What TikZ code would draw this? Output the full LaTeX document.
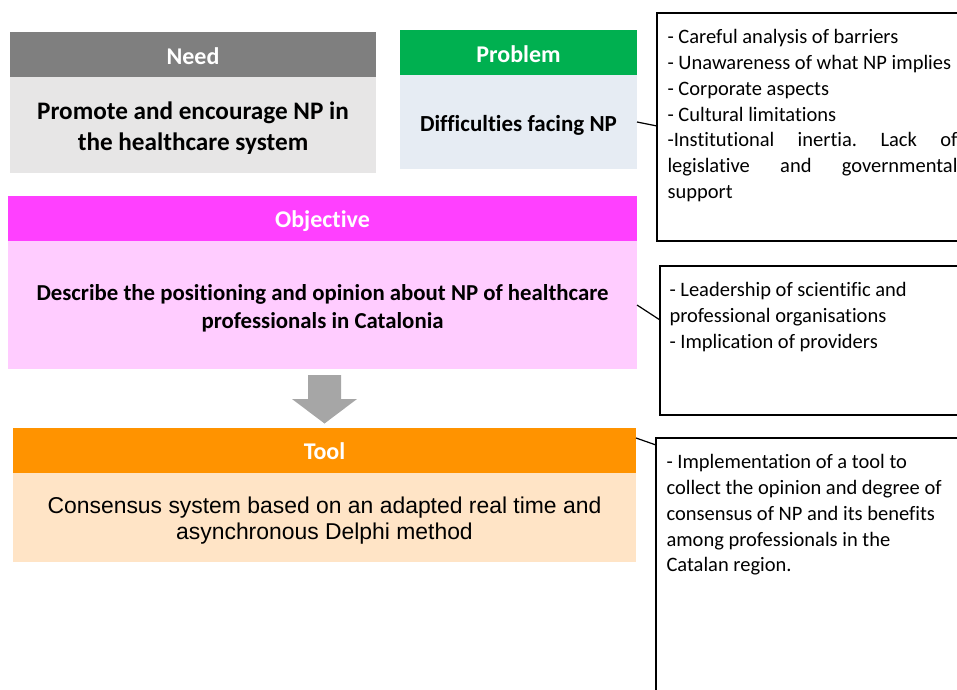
\documentclass[tikz,border=0pt]{standalone}
\usepackage{fontspec}
\setmainfont[Ligatures=NoCommon]{Carlito}
\newfontfamily\arialfont{Liberation Sans}
\usetikzlibrary{positioning}
\definecolor{needh}{HTML}{7F7F7F}
\definecolor{needb}{HTML}{E7E6E6}
\definecolor{probh}{HTML}{00B050}
\definecolor{probb}{HTML}{E6ECF3}
\definecolor{objh}{HTML}{FF40FF}
\definecolor{objb}{HTML}{FFCCFF}
\definecolor{toolh}{HTML}{FF9300}
\definecolor{toolb}{HTML}{FFE4C6}
\definecolor{arrowgrey}{HTML}{A6A6A6}
\tikzset{
  hdr/.style={anchor=north west, inner sep=0, outer sep=0},
  hdrtext/.style={inner sep=0, text=white, font=\fontsize{24}{28}\selectfont\bfseries},
  bodybox/.style={anchor=north west, inner sep=0, outer sep=0},
  bodytext/.style={inner sep=0, align=center},
  sidebox/.style={anchor=north west, draw=black, line width=1.8pt, inner sep=0, outer sep=0},
  sidetext/.style={anchor=north west, inner sep=0, outer sep=0,
    font=\fontsize{20.5}{25.8}\selectfont},
  link/.style={draw=black, line width=1.2pt}
}
\begin{document}
\begin{tikzpicture}[x=1pt,y=-1pt]
\useasboundingbox (0,0) rectangle (957,689);
\clip (0,0) rectangle (957,689);
% Need
\node[hdr, fill=needh, minimum width=366pt, minimum height=45pt] (needh) at (10,32) {};
\node[hdrtext] (needht) at ([yshift=-2pt]needh.center) {Need};
\node[bodybox, fill=needb, minimum width=366pt, minimum height=96pt] (needb) at (10,77) {};
\node[bodytext, font=\fontsize{25.2}{31}\selectfont\bfseries] (needbt) at ([yshift=-3pt]needb.center) {Promote and encourage NP in\\the healthcare system};
% Problem
\node[hdr, fill=probh, minimum width=237pt, minimum height=45pt] (probh) at (400,30) {};
\node[hdrtext] (probht) at ([yshift=-1.5pt]probh.center) {Problem};
\node[bodybox, fill=probb, minimum width=237pt, minimum height=94pt] (probb) at (400,75) {};
\node[bodytext, font=\fontsize{23}{28}\selectfont\bfseries] (probbt) at ([yshift=-3pt]probb.center) {Difficulties facing NP};
% Objective
\node[hdr, fill=objh, minimum width=629pt, minimum height=45pt] (objh) at (8,196) {};
\node[hdrtext] (objht) at ([yshift=-3pt]objh.center) {Objective};
\node[bodybox, fill=objb, minimum width=629pt, minimum height=128pt] (objb) at (8,241) {};
\node[bodytext, font=\fontsize{22.8}{28}\selectfont\bfseries] (objbt) at ([yshift=-3pt]objb.center) {Describe the positioning and opinion about NP of healthcare\\professionals in Catalonia};
% Arrow
\fill[arrowgrey] (308,375) -- (341,375) -- (341,399) -- (357,399) -- (324.5,423.5) -- (292,399) -- (308,399) -- cycle;
% Tool
\node[hdr, fill=toolh, minimum width=623pt, minimum height=45pt] (toolh) at (13,428) {};
\node[hdrtext] (toolht) at ([yshift=-1pt]toolh.center) {Tool};
\node[bodybox, fill=toolb, minimum width=623pt, minimum height=89pt] (toolb) at (13,473) {};
\node[bodytext, font=\fontsize{22.9}{26}\selectfont\arialfont] (toolbt) at ([yshift=-3.5pt]toolb.center) {Consensus system based on an adapted real time and\\asynchronous Delphi method};
% Side boxes
\node[sidebox, minimum width=320pt, minimum height=228pt] (side1) at (657,13) {};
\node[sidebox, minimum width=320pt, minimum height=149pt] (side2) at (660,266) {};
\node[sidebox, minimum width=320pt, minimum height=280pt] (side3) at (656,438) {};
\node[sidetext, text width=290pt, align=justify] (t1) at (667.5,29.5)
  {\frenchspacing - Careful analysis of barriers\\- Unawareness of what NP implies\\- Corporate aspects\\- Cultural limitations\\-Institutional inertia. Lack of \mbox{legislative} and \mbox{governmental} \mbox{support}};
\node[sidetext, align=left] (t2) at (669.5,282.5)
  {- Leadership of scientific and\\professional organisations\\- Implication of providers};
\node[sidetext, align=left] (t3) at (666.5,454.5)
  {- Implementation of a tool to\\collect the opinion and degree of\\consensus of NP and its benefits\\among professionals in the\\Catalan region.};
% Connectors
\draw[link] (probb.east) -- ([yshift=-113pt]side1.north west);
\draw[link] ([yshift=-64pt]objb.north east) -- ([yshift=-54pt]side2.north west);
\draw[link] ([yshift=-10pt]toolh.north east) -- ([yshift=-7pt]side3.north west);
\end{tikzpicture}
\end{document}
